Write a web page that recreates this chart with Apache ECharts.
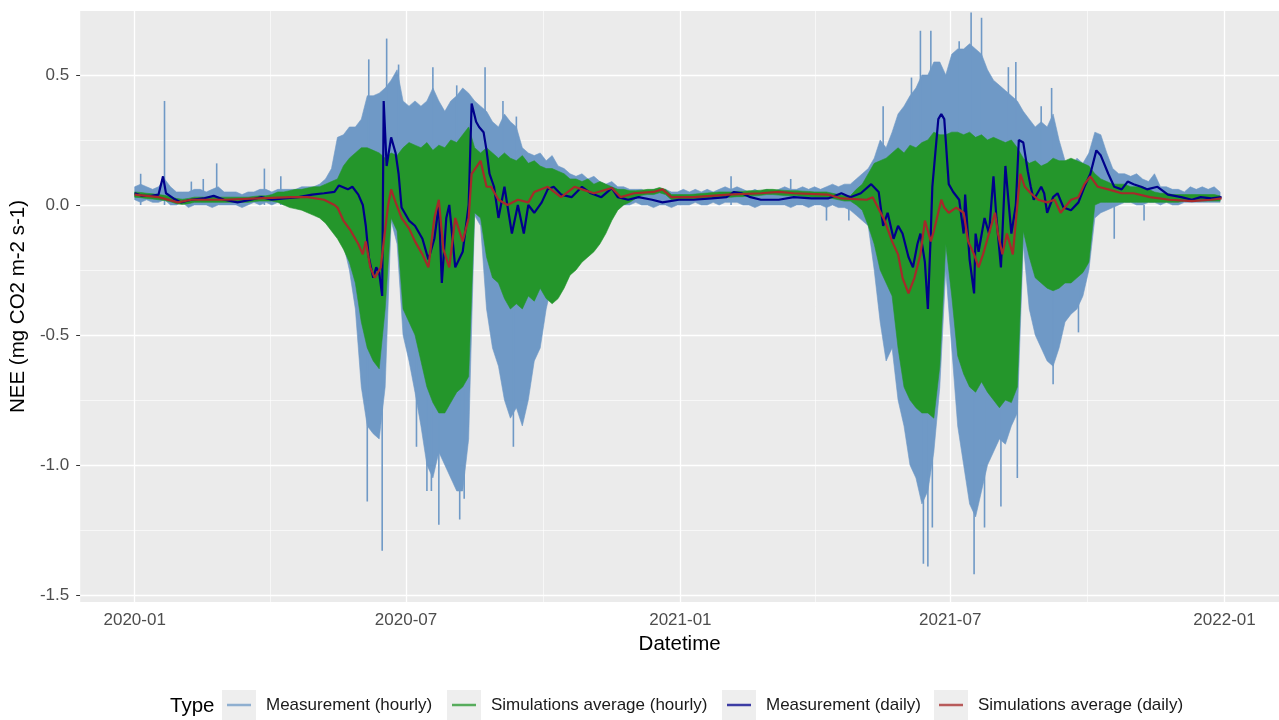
<!DOCTYPE html>
<html>
<head>
<meta charset="utf-8">
<script src="https://cdn.jsdelivr.net/npm/echarts@6/dist/echarts.min.js"></script>
<style>html,body{margin:0;padding:0;background:#fff}#chart{width:1279px;height:720px}</style>
</head>
<body>
<div id="chart"></div>
<script>
// ---------------- DATA ----------------
// Hourly series are summarised as an envelope (upper / lower extent) sampled every 4 days
const hourlyStart = '2020-01-01';
const hourlyStepDays = 4;

const measHourlyMax = [
 0.07,0.08,0.07,0.06,0.07,0.10,0.07,0.05,0.05,0.05,
 0.06,0.06,0.05,0.06,0.07,0.05,0.05,0.05,0.04,0.05,
 0.05,0.06,0.06,0.05,0.06,0.06,0.06,0.06,0.07,0.07,
 0.07,0.08,0.10,0.14,0.26,0.27,0.30,0.30,0.33,0.42,
 0.42,0.43,0.45,0.48,0.52,0.40,0.38,0.40,0.38,0.40,
 0.45,0.40,0.36,0.40,0.42,0.45,0.43,0.40,0.38,0.36,
 0.32,0.30,0.35,0.32,0.30,0.22,0.20,0.19,0.20,0.17,
 0.19,0.15,0.14,0.12,0.11,0.12,0.10,0.11,0.09,0.08,
 0.09,0.07,0.07,0.06,0.06,0.06,0.05,0.06,0.05,0.06,
 0.05,0.05,0.06,0.05,0.06,0.05,0.06,0.05,0.06,0.07,
 0.06,0.07,0.06,0.05,0.06,0.05,0.06,0.05,0.06,0.07,
 0.06,0.06,0.07,0.06,0.07,0.06,0.07,0.08,0.07,0.08,
 0.08,0.10,0.12,0.14,0.18,0.25,0.22,0.28,0.35,0.38,
 0.42,0.45,0.50,0.50,0.55,0.55,0.50,0.58,0.60,0.60,
 0.62,0.60,0.58,0.52,0.48,0.46,0.44,0.42,0.40,0.36,
 0.33,0.30,0.32,0.30,0.35,0.25,0.17,0.15,0.18,0.16,
 0.20,0.28,0.27,0.20,0.14,0.12,0.12,0.11,0.12,0.10,
 0.09,0.12,0.07,0.07,0.06,0.06,0.05,0.07,0.06,0.07,
 0.06,0.07,0.05
];
const measHourlyMin = [
 0.02,0.01,0.02,0.01,0.01,0.02,0.00,0.00,0.01,-0.01,
 0.00,0.00,0.00,-0.01,0.00,0.00,0.00,0.00,-0.01,0.00,
 0.01,0.00,0.01,0.00,0.01,0.00,0.01,0.01,0.01,0.02,
 0.00,-0.01,-0.02,-0.04,-0.08,-0.15,-0.25,-0.40,-0.70,-0.85,
 -0.88,-0.90,-0.70,-0.06,-0.15,-0.50,-0.60,-0.72,-0.85,-1.00,
 -1.05,-0.95,-1.00,-1.05,-1.10,-1.10,-0.90,-0.04,-0.08,-0.40,
 -0.55,-0.62,-0.75,-0.82,-0.78,-0.85,-0.75,-0.60,-0.55,-0.40,
 -0.30,-0.25,-0.20,-0.15,-0.14,-0.12,-0.10,-0.08,-0.06,-0.04,
 -0.03,-0.01,0.00,0.00,0.01,0.00,0.00,-0.01,0.00,0.00,
 -0.01,0.00,0.00,0.00,0.01,0.00,0.00,0.01,0.00,0.01,
 0.01,0.01,0.00,0.00,-0.01,0.00,0.00,0.00,0.00,0.00,
 -0.01,0.00,0.00,-0.01,0.00,0.00,-0.01,0.00,-0.01,-0.01,
 -0.02,-0.04,-0.06,-0.08,-0.25,-0.45,-0.60,-0.55,-0.75,-0.85,
 -1.00,-1.05,-1.15,-1.10,-0.95,-0.70,-0.25,-0.55,-0.85,-1.00,
 -1.15,-1.20,-1.10,-1.00,-0.95,-0.90,-0.92,-0.85,-0.80,-0.15,
 -0.40,-0.50,-0.55,-0.60,-0.62,-0.55,-0.45,-0.42,-0.40,-0.35,
 -0.25,-0.05,-0.03,-0.02,-0.01,0.00,0.01,0.01,0.00,0.00,
 0.01,0.01,0.00,0.01,0.00,0.00,0.01,0.01,0.01,0.01,
 0.01,0.01,0.01
];
const simHourlyMax = [
 0.05,0.048,0.045,0.043,0.04,0.037,0.032,0.025,0.022,0.025,
 0.03,0.03,0.03,0.03,0.03,0.03,0.03,0.03,0.03,0.03,
 0.033,0.035,0.035,0.04,
 0.05,0.05,0.055,0.06,0.06,0.065,
 0.07,0.07,0.08,0.09,0.10,0.15,0.18,0.20,0.22,0.22,
 0.21,0.20,0.18,0.20,0.19,0.22,0.24,0.23,0.22,0.24,
 0.21,0.23,0.22,0.25,0.24,0.27,0.30,0.22,0.20,0.22,
 0.20,0.18,0.20,0.18,0.17,0.19,0.16,0.17,0.15,0.14,
 0.14,0.13,0.12,0.10,0.10,0.09,0.10,0.08,0.09,0.08,
 0.07,0.06,0.06,0.055,0.055,
 0.057,0.06,0.06,0.067,0.06,0.04,0.04,0.04,
 0.04,0.042,0.044,0.046,0.048,0.05,0.05,0.05,0.052,0.052,
 0.055,0.055,0.057,0.06,0.06,0.058,0.056,0.055,0.055,0.053,0.052,0.05,0.05,0.05,0.045,0.04,0.035,
 0.035,0.06,0.08,0.12,0.16,0.17,0.18,0.20,0.22,0.20,
 0.23,0.22,0.24,0.25,0.28,0.27,0.27,0.28,0.28,0.27,
 0.28,0.26,0.27,0.25,0.26,0.25,0.24,0.25,0.22,0.18,
 0.16,0.17,0.15,0.16,0.18,0.17,0.17,0.18,0.17,0.16,
 0.15,0.12,0.10,0.09,0.08,0.08,0.08,0.07,0.07,0.07,
 0.06,0.05,0.045,0.045,0.04,0.04,0.04,0.04,0.04,0.04,
 0.04,0.04,0.035
];
const simHourlyMin = [
 0.03,0.028,0.025,0.023,0.02,0.017,0.012,0.005,0.002,0.005,
 0.01,0.01,0.01,0.01,0.01,0.01,0.01,0.01,0.01,0.01,
 0.013,0.015,0.015,0.015,
 0.01,0.0,-0.01,-0.015,-0.02,-0.03,
 -0.04,-0.05,-0.07,-0.10,-0.13,-0.17,-0.22,-0.30,-0.45,-0.55,
 -0.60,-0.63,-0.40,-0.05,-0.10,-0.40,-0.45,-0.50,-0.60,-0.70,
 -0.76,-0.80,-0.80,-0.76,-0.72,-0.70,-0.66,-0.03,-0.05,-0.20,
 -0.28,-0.30,-0.36,-0.40,-0.38,-0.40,-0.35,-0.37,-0.32,-0.36,
 -0.38,-0.36,-0.32,-0.27,-0.25,-0.22,-0.20,-0.18,-0.15,-0.11,
 -0.06,-0.02,0.0,0.01,0.025,
 0.037,0.04,0.04,0.047,0.04,0.02,0.02,0.02,
 0.02,0.022,0.024,0.026,0.028,0.03,0.03,0.03,0.032,0.032,
 0.035,0.035,0.037,0.04,0.04,0.038,0.036,0.035,0.035,0.033,0.032,0.03,0.03,0.03,0.025,0.02,0.015,
 0.015,0.0,-0.02,-0.08,-0.15,-0.25,-0.30,-0.35,-0.55,-0.70,
 -0.75,-0.78,-0.80,-0.80,-0.82,-0.62,-0.15,-0.35,-0.58,-0.65,
 -0.70,-0.72,-0.68,-0.72,-0.75,-0.78,-0.75,-0.76,-0.70,-0.10,
 -0.20,-0.28,-0.30,-0.32,-0.33,-0.32,-0.30,-0.30,-0.28,-0.26,
 -0.22,0.0,0.01,0.01,0.01,0.01,0.01,0.01,0.01,0.01,
 0.01,0.01,0.01,0.01,0.01,0.01,0.015,0.015,0.015,0.015,
 0.015,0.015,0.015
];
// Isolated hourly extremes of the measurement (thin spikes beyond the dense envelope)
const measHourlySpikes = [
 ['2020-01-05',0.12],['2020-01-21',0.40],['2020-02-08',0.09],['2020-02-16',0.10],['2020-02-25',0.16],
 ['2020-03-28',0.14],['2020-04-08',0.11],['2020-06-06',0.56],['2020-06-18',0.64],['2020-06-26',0.54],
 ['2020-07-19',0.53],['2020-08-04',0.46],['2020-08-23',0.53],['2020-09-04',0.40],['2020-09-13',0.34],
 ['2020-06-05',-1.14],['2020-06-15',-1.33],['2020-07-08',-0.93],['2020-07-15',-1.10],['2020-07-18',-1.10],
 ['2020-07-23',-1.23],['2020-08-06',-1.21],['2020-08-09',-1.13],['2020-09-11',-0.93],
 ['2021-02-04',0.11],['2021-03-16',0.10],['2021-04-09',-0.06],['2021-04-24',-0.06],
 ['2021-05-17',0.38],['2021-06-05',0.49],['2021-06-11',0.67],['2021-06-18',0.67],['2021-07-07',0.63],
 ['2021-07-15',0.74],['2021-07-22',0.72],['2021-08-09',0.53],['2021-08-14',0.55],['2021-08-31',0.38],
 ['2021-09-07',0.45],['2021-06-13',-1.38],['2021-06-16',-1.39],['2021-06-19',-1.24],['2021-07-17',-1.42],
 ['2021-07-24',-1.24],['2021-08-04',-1.16],['2021-08-15',-1.05],['2021-09-08',-0.69],['2021-09-25',-0.49],
 ['2021-10-19',-0.13],['2021-11-08',-0.06]
];
const measDaily = [
 ['2020-01-01',0.045],['2020-01-06',0.035],['2020-01-12',0.035],['2020-01-17',0.04],['2020-01-20',0.11],
 ['2020-01-22',0.045],['2020-01-27',0.025],['2020-02-01',0.01],['2020-02-08',0.02],['2020-02-16',0.025],
 ['2020-02-23',0.035],['2020-03-01',0.02],['2020-03-10',0.01],['2020-03-19',0.02],['2020-03-26',0.03],
 ['2020-04-02',0.02],['2020-04-10',0.025],['2020-04-20',0.03],['2020-04-29',0.04],['2020-05-07',0.045],
 ['2020-05-14',0.05],['2020-05-17',0.075],['2020-05-23',0.06],['2020-05-26',0.07],['2020-05-30',0.04],
 ['2020-06-02',0.0],['2020-06-04',-0.08],['2020-06-06',-0.20],['2020-06-09',-0.28],['2020-06-11',-0.24],
 ['2020-06-13',-0.26],['2020-06-15',-0.35],['2020-06-16',0.40],['2020-06-18',0.15],['2020-06-21',0.26],
 ['2020-06-24',0.20],['2020-06-26',0.12],['2020-06-28',-0.01],['2020-07-03',-0.06],['2020-07-07',-0.08],
 ['2020-07-12',-0.13],['2020-07-16',-0.21],['2020-07-20',-0.13],['2020-07-23',0.0],['2020-07-25',-0.30],
 ['2020-07-28',-0.05],['2020-07-30',0.0],['2020-08-03',-0.24],['2020-08-08',-0.18],['2020-08-10',-0.09],
 ['2020-08-12',0.0],['2020-08-14',0.39],['2020-08-17',0.32],['2020-08-19',0.30],['2020-08-22',0.28],
 ['2020-08-24',0.21],['2020-08-26',0.12],['2020-08-29',0.07],['2020-09-01',-0.05],['2020-09-05',0.07],
 ['2020-09-10',-0.11],['2020-09-14',0.0],['2020-09-18',-0.11],['2020-09-21',0.0],['2020-09-25',-0.03],
 ['2020-09-30',0.01],['2020-10-04',0.06],['2020-10-08',0.07],['2020-10-13',0.04],['2020-10-20',0.03],
 ['2020-10-27',0.07],['2020-11-02',0.045],['2020-11-09',0.03],['2020-11-16',0.065],['2020-11-20',0.03],
 ['2020-11-27',0.02],['2020-12-04',0.03],['2020-12-13',0.02],['2020-12-20',0.01],['2020-12-31',0.02],
 ['2021-01-10',0.02],['2021-01-22',0.025],['2021-02-01',0.03],['2021-02-06',0.05],['2021-02-11',0.045],
 ['2021-02-17',0.03],['2021-02-24',0.02],['2021-03-08',0.02],['2021-03-18',0.03],['2021-03-30',0.025],
 ['2021-04-10',0.025],['2021-04-19',0.045],['2021-04-25',0.03],['2021-05-02',0.045],['2021-05-09',0.08],
 ['2021-05-14',0.05],['2021-05-17',-0.08],['2021-05-20',-0.03],['2021-05-24',-0.13],['2021-05-27',-0.08],
 ['2021-05-30',-0.11],['2021-06-03',-0.20],['2021-06-06',-0.24],['2021-06-09',-0.15],['2021-06-11',-0.11],
 ['2021-06-14',-0.22],['2021-06-16',-0.40],['2021-06-18',-0.10],['2021-06-19',0.07],['2021-06-23',0.33],
 ['2021-06-25',0.35],['2021-06-27',0.33],['2021-06-30',0.08],['2021-07-03',0.05],['2021-07-07',0.02],
 ['2021-07-10',-0.11],['2021-07-11',0.04],['2021-07-14',-0.21],['2021-07-17',-0.34],['2021-07-18',-0.11],
 ['2021-07-20',-0.18],['2021-07-24',-0.05],['2021-07-27',-0.11],['2021-07-30',0.11],['2021-08-01',-0.05],
 ['2021-08-04',-0.24],['2021-08-07',0.15],['2021-08-11',-0.11],['2021-08-14',0.0],['2021-08-16',0.25],
 ['2021-08-19',0.24],['2021-08-22',0.13],['2021-08-24',0.07],['2021-08-26',0.02],['2021-08-31',0.07],
 ['2021-09-02',0.045],['2021-09-04',-0.03],['2021-09-08',0.03],['2021-09-11',0.045],['2021-09-15',-0.01],
 ['2021-09-20',-0.02],['2021-09-25',0.01],['2021-09-29',0.07],['2021-10-03',0.12],['2021-10-07',0.21],
 ['2021-10-10',0.19],['2021-10-15',0.12],['2021-10-19',0.07],['2021-10-24',0.06],['2021-10-28',0.09],
 ['2021-11-01',0.08],['2021-11-06',0.07],['2021-11-10',0.06],['2021-11-17',0.07],['2021-11-24',0.04],
 ['2021-12-03',0.03],['2021-12-10',0.02],['2021-12-16',0.03],['2021-12-23',0.025],['2021-12-30',0.03]
];
const simDaily = [
 ['2020-01-01',0.04],['2020-01-17',0.03],['2020-01-30',0.01],['2020-02-08',0.02],['2020-03-01',0.02],
 ['2020-03-24',0.025],['2020-04-15',0.03],['2020-04-26',0.03],['2020-05-07',0.02],['2020-05-14',0.0],
 ['2020-05-16',-0.01],['2020-05-20',-0.06],['2020-05-25',-0.10],['2020-05-30',-0.15],['2020-06-02',-0.19],
 ['2020-06-04',-0.14],['2020-06-07',-0.24],['2020-06-10',-0.28],['2020-06-14',-0.24],['2020-06-19',0.0],
 ['2020-06-21',0.06],['2020-06-24',0.01],['2020-06-28',-0.05],['2020-07-03',-0.09],['2020-07-07',-0.14],
 ['2020-07-12',-0.19],['2020-07-16',-0.24],['2020-07-20',-0.05],['2020-07-23',0.02],['2020-07-26',-0.17],
 ['2020-07-30',-0.24],['2020-08-03',-0.05],['2020-08-08',-0.14],['2020-08-12',-0.05],['2020-08-14',0.12],
 ['2020-08-20',0.17],['2020-08-24',0.07],['2020-08-27',0.07],['2020-09-01',0.02],['2020-09-07',0.0],
 ['2020-09-14',0.02],['2020-09-21',0.01],['2020-09-25',0.05],['2020-10-04',0.07],['2020-10-13',0.03],
 ['2020-10-22',0.07],['2020-10-27',0.06],['2020-11-04',0.045],['2020-11-16',0.065],['2020-11-22',0.03],
 ['2020-12-01',0.045],['2020-12-14',0.05],['2020-12-20',0.06],['2020-12-26',0.03],['2021-01-10',0.03],
 ['2021-02-02',0.04],['2021-02-24',0.045],['2021-03-08',0.05],['2021-03-18',0.045],['2021-04-10',0.04],
 ['2021-04-19',0.025],['2021-05-06',0.02],['2021-05-10',0.03],['2021-05-18',-0.06],['2021-05-23',-0.14],
 ['2021-05-27',-0.19],['2021-05-30',-0.28],['2021-06-03',-0.34],['2021-06-07',-0.28],['2021-06-11',-0.19],
 ['2021-06-14',-0.06],['2021-06-18',-0.14],['2021-06-20',-0.10],['2021-06-25',0.02],['2021-06-27',-0.01],
 ['2021-06-30',-0.03],['2021-07-05',-0.01],['2021-07-10',-0.03],['2021-07-13',-0.14],['2021-07-17',-0.19],
 ['2021-07-20',-0.24],['2021-07-23',-0.19],['2021-07-27',-0.11],['2021-07-31',-0.03],['2021-08-02',-0.11],
 ['2021-08-05',-0.19],['2021-08-08',-0.11],['2021-08-12',-0.19],['2021-08-15',0.0],['2021-08-17',0.12],
 ['2021-08-20',0.07],['2021-08-24',0.045],['2021-08-29',0.02],['2021-09-04',0.01],['2021-09-09',0.02],
 ['2021-09-13',-0.03],['2021-09-20',0.02],['2021-09-25',0.03],['2021-09-29',0.08],['2021-10-03',0.11],
 ['2021-10-08',0.07],['2021-10-15',0.06],['2021-10-24',0.045],['2021-11-01',0.045],['2021-11-12',0.03],
 ['2021-11-25',0.02],['2021-12-10',0.015],['2021-12-23',0.02],['2021-12-30',0.025]
];
const seriesNames = ['Measurement (hourly)','Simulations average (hourly)','Measurement (daily)','Simulations average (daily)'];
const xTickDates = ['2020-01-01','2020-07-01','2021-01-01','2021-07-01','2022-01-01'];
const xMinorDates = ['2020-04-01','2020-10-01','2021-04-01T12:00:00','2021-10-01'];
const yTickValues = [-1.5,-1.0,-0.5,0.0,0.5];
const yMinorValues = [-1.25,-0.75,-0.25,0.25];

// ---------------- STYLE / LAYOUT ----------------
const COLORS = ['#6F99C6','#24962B','#00008B','#A52A2A'];
const FONT = "'Liberation Sans', Arial, Helvetica, sans-serif";
function ts(s){ return new Date(s.length > 10 ? s : s + 'T00:00:00').getTime(); }
const DAY = 86400000;
const t0 = ts(hourlyStart);
const hourlyTimes = measHourlyMax.map((_, i) => t0 + i * hourlyStepDays * DAY);
const toPoints = arr => arr.map(d => [ts(d[0]), d[1]]);
function pad2(n){ return (n < 10 ? '0' : '') + n; }
function fmtMonth(v){ const d = new Date(v); return d.getFullYear() + '-' + pad2(d.getMonth() + 1); }

const X_MIN = ts('2020-01-01') - 36.55 * DAY;
const X_MAX = ts('2021-12-31') + (23/24 + 36.55) * DAY;

function bandSeries(name, color, upper, lower, z){
  return {
    name: name, type: 'custom', z: z, silent: true, animation: false,
    itemStyle: {color: color},
    data: [[hourlyTimes[0], upper[0]]],
    encode: {x: 0, y: 1},
    renderItem: function(params, api){
      const pts = [];
      for (let i = 0; i < upper.length; i++) pts.push(api.coord([hourlyTimes[i], upper[i]]));
      for (let i = lower.length - 1; i >= 0; i--) pts.push(api.coord([hourlyTimes[i], lower[i]]));
      return {type: 'polygon', shape: {points: pts}, style: {fill: color, stroke: color, lineWidth: 0.6}};
    }
  };
}
function spikeSeries(name, color, spikes, z){
  return {
    name: name, type: 'custom', z: z, silent: true,
    itemStyle: {color: color},
    data: toPoints(spikes),
    encode: {x: 0, y: 1},
    renderItem: function(params, api){
      const a = api.coord([api.value(0), 0]);
      const b = api.coord([api.value(0), api.value(1)]);
      return {type: 'line', shape: {x1: a[0], y1: a[1], x2: b[0], y2: b[1]}, style: {stroke: color, lineWidth: 1.6}};
    }
  };
}

const gridLines = [];
yTickValues.forEach(v => gridLines.push({yAxis: v, lineStyle: {width: 1.3}}));
yMinorValues.forEach(v => gridLines.push({yAxis: v, lineStyle: {width: 0.6}}));
xTickDates.forEach(d => gridLines.push({xAxis: ts(d), lineStyle: {width: 1.3}}));
xMinorDates.forEach(d => gridLines.push({xAxis: ts(d), lineStyle: {width: 0.6}}));

const legendBoxX = [222, 447, 722, 934];
const BOX_W = 34;

const option = {
  animation: false,
  backgroundColor: '#ffffff',
  grid: {left: 79, right: 0, top: 11, bottom: 118, show: true, backgroundColor: '#EBEBEB', borderWidth: 0},
  xAxis: {
    type: 'value', min: X_MIN, max: X_MAX, scale: true,
    axisLine: {show: false},
    axisTick: {show: true, length: 4, lineStyle: {color: '#333333', width: 1}, customValues: xTickDates.map(ts)},
    axisLabel: {
      customValues: xTickDates.map(ts), margin: 10, color: '#4D4D4D', fontSize: 17, fontFamily: FONT,
      formatter: v => fmtMonth(v)
    },
    splitLine: {show: false},
    name: 'Datetime', nameLocation: 'middle', nameGap: 30,
    nameTextStyle: {color: '#000', fontSize: 20.5, fontFamily: FONT}
  },
  yAxis: {
    type: 'value', min: -1.527, max: 0.746,
    axisLine: {show: false},
    axisTick: {show: true, length: 4, lineStyle: {color: '#333333', width: 1}, customValues: yTickValues},
    axisLabel: {
      customValues: yTickValues, margin: 11, color: '#4D4D4D', fontSize: 17, fontFamily: FONT,
      formatter: v => Number(v).toFixed(1)
    },
    splitLine: {show: false},
    name: 'NEE (mg CO2 m-2 s-1)', nameLocation: 'middle', nameGap: 48, nameRotate: 90,
    nameTextStyle: {color: '#000', fontSize: 20.5, fontFamily: FONT}
  },
  legend: seriesNames.map((n, i) => ({
    data: [{name: n, icon: 'rect', itemStyle: {color: COLORS[i], opacity: 0.75}}],
    left: legendBoxX[i] + 5, top: 695, padding: 0,
    itemWidth: 24, itemHeight: 2.5, selectedMode: false,
    formatter: name => '{p| }' + name,
    textStyle: {color: '#1A1A1A', fontSize: 17, fontFamily: FONT, lineHeight: 20, rich: {p: {width: 10}}}
  })),
  graphic: [
    {type: 'text', x: 170, y: 706, z: 10, style: {text: 'Type', fill: '#000', font: '20.5px ' + FONT, verticalAlign: 'middle'}}
  ].concat(legendBoxX.map(x => ({type: 'rect', z: 0, shape: {x: x, y: 690, width: BOX_W, height: 30}, style: {fill: '#EEEEEE'}}))),
  series: [
    {
      name: 'grid', type: 'line', data: [], silent: true, z: 1,
      markLine: {silent: true, z: 1, symbol: ['none','none'], label: {show: false}, animation: false,
        lineStyle: {color: '#FFFFFF', type: 'solid'}, emphasis: {disabled: true}, data: gridLines}
    },
    bandSeries(seriesNames[0], COLORS[0], measHourlyMax, measHourlyMin, 2),
    spikeSeries(seriesNames[0], COLORS[0], measHourlySpikes, 2),
    bandSeries(seriesNames[1], COLORS[1], simHourlyMax, simHourlyMin, 3),
    {
      name: seriesNames[2], type: 'line', z: 4, data: toPoints(measDaily), showSymbol: false, symbol: 'none', silent: true,
      lineStyle: {color: COLORS[2], width: 2.2}, itemStyle: {color: COLORS[2]}, emphasis: {disabled: true}
    },
    {
      name: seriesNames[3], type: 'line', z: 5, data: toPoints(simDaily), showSymbol: false, symbol: 'none', silent: true,
      lineStyle: {color: COLORS[3], width: 2.2}, itemStyle: {color: COLORS[3]}, emphasis: {disabled: true}
    }
  ]
};
const chart = echarts.init(document.getElementById('chart'), null, {renderer: 'canvas'});
chart.setOption(option);
</script>
</body>
</html>
